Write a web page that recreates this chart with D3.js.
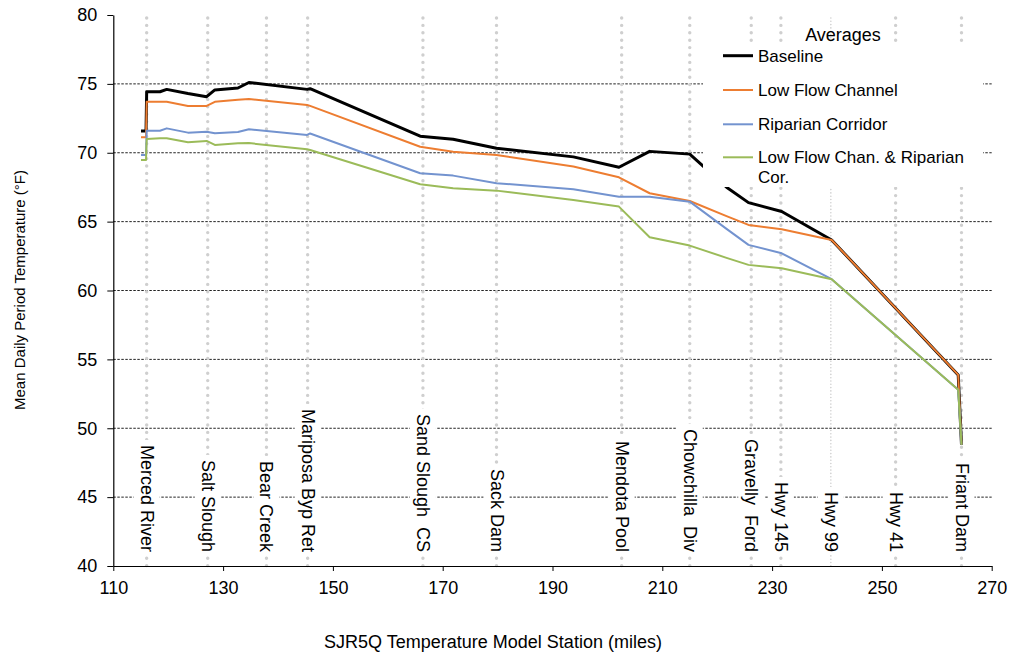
<!DOCTYPE html>
<html>
<head>
<meta charset="utf-8">
<script src="https://cdn.jsdelivr.net/npm/d3@7"></script>
<style>
  body { margin: 0; background: #fff; }
  text { font-family: "Liberation Sans", Arial, sans-serif; fill: #000; }
</style>
</head>
<body>
<div id="chart-area"></div>
<script>
// river mile of each model point
const miles = [115.05, 115.96, 116.08, 118.5, 119.73, 123.6, 127.0, 128.5, 132.7, 134.7,
    145.3, 145.85, 165.9, 171.9, 179.8, 193.8, 202.1, 207.7, 215.0, 221.7,
    225.7, 231.75, 240.85, 263.9, 264.5];

const baseline = [71.58, 71.58, 74.43, 74.43, 74.6, 74.3, 74.07, 74.56, 74.7, 75.1,
    74.6, 74.65, 71.2, 70.98, 70.33, 69.7, 68.95, 70.1, 69.9, 67.5,
    66.38, 65.73, 63.67, 53.87, 48.8];
const lowFlow = [71.12, 71.12, 73.7, 73.7, 73.7, 73.4, 73.4, 73.7, 73.85, 73.9,
    73.47, 73.4, 70.44, 70.08, 69.84, 69.0, 68.22, 67.06, 66.5, 65.4,
    64.76, 64.45, 63.67, 53.87, 48.8];
const riparian = [69.84, 69.84, 71.6, 71.6, 71.77, 71.46, 71.53, 71.41, 71.5, 71.7,
    71.29, 71.4, 68.51, 68.34, 67.79, 67.35, 66.81, 66.81, 66.45, 64.47,
    63.31, 62.7, 60.82, 52.79, 48.8];
const combined = [69.48, 69.48, 71.0, 71.05, 71.05, 70.76, 70.86, 70.57, 70.69, 70.7,
    70.25, 70.2, 67.71, 67.42, 67.25, 66.57, 66.09, 63.87, 63.26, 62.37,
    61.86, 61.62, 60.82, 52.79, 48.8];

const seriesNames = ["Baseline", "Low Flow Channel", "Riparian Corridor", "Low Flow Chan. & Riparian Cor."];
const seriesColors = ["#000000", "#ED7D31", "#7393CF", "#9BBB59"];
const seriesWidths = [3, 2, 2, 2];

const stationNames = ["Merced River", "Salt Slough", "Bear Creek", "Mariposa Byp Ret", "Sand Slough  CS",
    "Sack Dam", "Mendota Pool", "Chowchilla  Div", "Gravelly  Ford", "Hwy 145", "Hwy 99", "Hwy 41", "Friant Dam"];
const stationMiles = [116.08, 127.2, 137.9, 145.4, 166.4, 179.8, 202.6, 215.0, 226.2, 231.6, 240.7, 252.5, 264.5];

const xTicks = [110, 130, 150, 170, 190, 210, 230, 250, 270];
const yTicks = [40, 45, 50, 55, 60, 65, 70, 75, 80];

const width = 1010, height = 653;
const plotLeft = 113.3, plotRight = 991.7, plotTop = 15, plotBottom = 566;

const svg = d3.select("#chart-area").append("svg")
    .attr("width", width)
    .attr("height", height);

const x = d3.scaleLinear().domain([110, 270]).range([plotLeft, plotRight]);
const y = d3.scaleLinear().domain([40, 80]).range([plotBottom, plotTop]);

// horizontal gridlines
svg.append("g").selectAll("line")
    .data(yTicks.filter(d => d > 40 && d < 80))
    .enter().append("line")
    .attr("x1", plotLeft).attr("x2", plotRight)
    .attr("y1", d => y(d)).attr("y2", d => y(d))
    .attr("stroke", "#222")
    .attr("stroke-width", 1)
    .attr("stroke-dasharray", "2.5,1.5");

// station lines (grey dots)
svg.append("g").selectAll("line")
    .data(stationNames.map((n, i) => ({name: n, mile: stationMiles[i]})))
    .enter().append("line")
    .attr("x1", d => x(d.mile)).attr("x2", d => x(d.mile))
    .attr("y1", plotTop + 3).attr("y2", plotBottom + 3)
    .attr("stroke", "#cfcfcf")
    .attr("stroke-linecap", "round")
    .attr("stroke-width", d => d.name === "Hwy 99" ? 1.6 : 3.4)
    .attr("stroke-dasharray", d => d.name === "Hwy 99" ? "0,3.3" : "0,7.4");

// series
const allSeries = [baseline, lowFlow, riparian, combined];
const line = d3.line()
    .x((d, i) => x(miles[i]))
    .y(d => y(d));

allSeries.forEach((vals, k) => {
    svg.append("path")
        .datum(vals)
        .attr("fill", "none")
        .attr("stroke", seriesColors[k])
        .attr("stroke-width", seriesWidths[k])
        .attr("stroke-linejoin", "round")
        .attr("d", line);
});

// station labels with white boxes
const labelBottom = 552;
const labels = svg.append("g").selectAll("g")
    .data(stationNames.map((n, i) => ({name: n, mile: stationMiles[i]})))
    .enter().append("g")
    .attr("transform", d => `translate(${x(d.mile)},${labelBottom}) rotate(90)`);

labels.append("rect").attr("class", "bg");
labels.append("text")
    .attr("text-anchor", "end")
    .attr("dominant-baseline", "central")
    .style("white-space", "pre")
    .attr("font-size", 18)
    .text(d => d.name);

labels.each(function () {
    const g = d3.select(this);
    const len = g.select("text").node().getComputedTextLength();
    g.select("rect")
        .attr("x", -len - 5)
        .attr("y", -13)
        .attr("width", len + 8)
        .attr("height", 26)
        .attr("fill", "#fff");
});

// legend
const legend = svg.append("g");
legend.append("rect")
    .attr("x", 703).attr("y", 43)
    .attr("width", 280).attr("height", 144)
    .attr("fill", "#fff");
legend.append("text")
    .attr("x", 843).attr("y", 41)
    .attr("text-anchor", "middle")
    .attr("font-size", 18)
    .text("Averages");

const rowY = [55.7, 90, 124.3, 157.3];
seriesNames.forEach((name, k) => {
    legend.append("line")
        .attr("x1", 723).attr("x2", 753)
        .attr("y1", rowY[k]).attr("y2", rowY[k])
        .attr("stroke", seriesColors[k])
        .attr("stroke-width", seriesWidths[k]);
    const t = legend.append("text")
        .attr("x", 758).attr("y", rowY[k] + 6)
        .attr("font-size", 17);
    if (k === 3) {
        t.text("Low Flow Chan. & Riparian");
        legend.append("text")
            .attr("x", 758).attr("y", rowY[k] + 25.5)
            .attr("font-size", 17)
            .text("Cor.");
    } else {
        t.text(name);
    }
});

// axes
const xAxis = svg.append("g")
    .attr("transform", `translate(0,${plotBottom})`)
    .call(d3.axisBottom(x).tickValues(xTicks).tickSize(5).tickSizeOuter(0).tickPadding(10));
const yAxis = svg.append("g")
    .attr("transform", `translate(${plotLeft},0)`)
    .call(d3.axisLeft(y).tickValues(yTicks).tickSize(6).tickSizeOuter(0).tickPadding(10));

[xAxis, yAxis].forEach(a => {
    a.select(".domain").attr("stroke", "#000").attr("stroke-width", 1.2);
    a.selectAll(".tick line").attr("stroke", "#000");
    a.selectAll(".tick text")
        .attr("font-size", 18)
        .attr("font-family", "Liberation Sans, Arial, sans-serif")
        .attr("fill", "#000");
});

// axis titles
svg.append("text")
    .attr("x", 493).attr("y", 648)
    .attr("text-anchor", "middle")
    .attr("font-size", 18)
    .text("SJR5Q Temperature Model Station (miles)");

svg.append("text")
    .attr("transform", "translate(25,290) rotate(-90)")
    .attr("text-anchor", "middle")
    .attr("font-size", 15)
    .text("Mean Daily Period Temperature (°F)");
</script>
</body>
</html>
